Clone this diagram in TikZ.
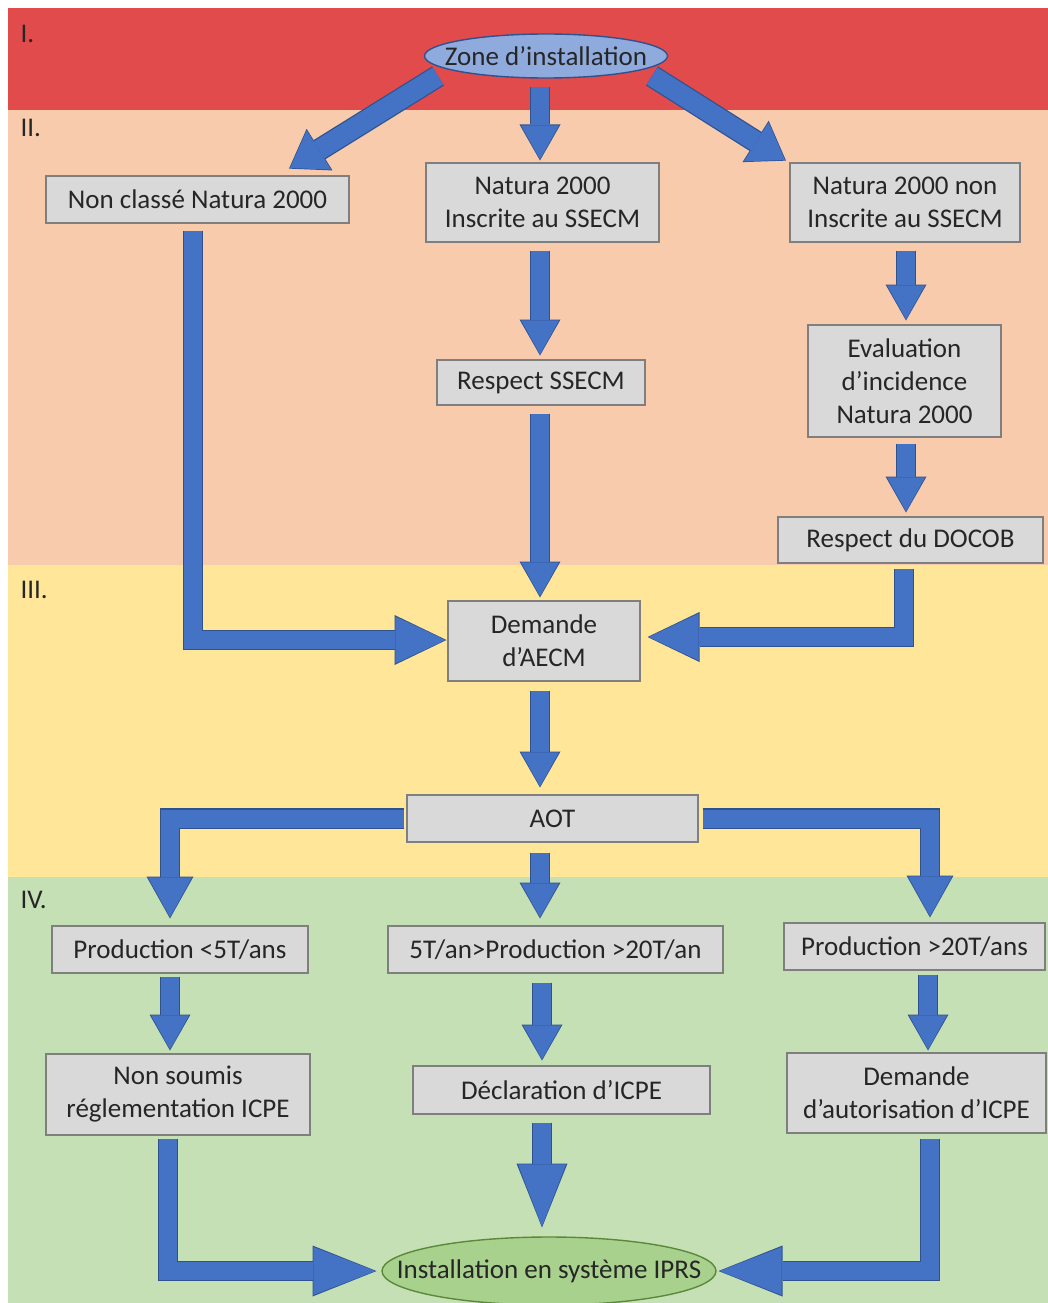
\documentclass[tikz,border=0pt]{standalone}
\usepackage{fontspec}
\setmainfont{Carlito}
\usetikzlibrary{arrows.meta,shapes.geometric}
\definecolor{bandred}{HTML}{E24B4B}
\definecolor{bandpeach}{HTML}{F8CBAD}
\definecolor{bandyellow}{HTML}{FFE699}
\definecolor{bandgreen}{HTML}{C5E0B4}
\definecolor{boxfill}{HTML}{D9D9D9}
\definecolor{boxedge}{HTML}{7F7F7F}
\definecolor{arrfill}{HTML}{4472C4}
\definecolor{arredge}{HTML}{2F528F}
\definecolor{ellblue}{HTML}{8FAADC}
\definecolor{ellgreen}{HTML}{A9D18E}
\definecolor{ellgreenedge}{HTML}{70AD47}
\begin{document}
\begin{tikzpicture}[x=1pt,y=-1pt,
  txt/.style={font=\fontsize{27}{33}\selectfont, text=black!85},
  box/.style={txt, draw=boxedge, fill=boxfill, line width=1.4pt, inner sep=0pt, align=center},
  zoneell/.style={txt, ellipse, draw=arredge, fill=ellblue, line width=1.4pt, inner xsep=-40pt, inner ysep=0pt},
  instell/.style={txt, ellipse, draw=ellgreenedge!80!black, fill=ellgreen, line width=1.4pt, inner xsep=-40pt, inner ysep=0pt},
  band/.style={txt, anchor=west},
  flowA/.style={draw=arrfill, line width=18pt, line join=miter,
     -{Triangle[width=38pt, length=34pt, line width=0pt]},
     preaction={draw=arredge, line width=20.5pt, line join=miter, shorten >=-1.2pt,
     -{Triangle[width=41pt, length=36pt, line width=0pt]}}},
  flowB/.style={draw=arrfill, line width=18pt, line join=miter,
     -{Triangle[width=47pt, length=50pt, line width=0pt]},
     preaction={draw=arredge, line width=20.5pt, line join=miter, shorten >=-1.2pt,
     -{Triangle[width=50pt, length=52pt, line width=0pt]}}},
  flowC/.style={draw=arrfill, line width=18pt, line join=miter,
     -{Triangle[width=48pt, length=62pt, line width=0pt]},
     preaction={draw=arredge, line width=20.5pt, line join=miter, shorten >=-1.2pt,
     -{Triangle[width=51pt, length=64pt, line width=0pt]}}},
  flowD/.style={draw=arrfill, line width=18pt, line join=miter,
     -{Triangle[width=44pt, length=40pt, line width=0pt]},
     preaction={draw=arredge, line width=20.5pt, line join=miter, shorten >=-1.2pt,
     -{Triangle[width=47pt, length=42pt, line width=0pt]}}},
  flowE/.style={draw=arrfill, line width=20pt, line join=miter,
     -{Triangle[width=46pt, length=34pt, line width=0pt]},
     preaction={draw=arredge, line width=22.5pt, line join=miter, shorten >=-1.2pt,
     -{Triangle[width=49pt, length=36pt, line width=0pt]}}}
]
\useasboundingbox (0,0) rectangle (1048,1303);
\fill[white] (0,0) rectangle (1048,1303);
\fill[bandred] (8,8) rectangle (1048,110);
\fill[bandpeach] (8,110) rectangle (1048,565);
\fill[bandyellow] (8,565) rectangle (1048,877);
\fill[bandgreen] (8,877) rectangle (1048,1303);

\node[band] (lI) at (17,34) {I.};
\node[band] (lII) at (17,128) {II.};
\node[band] (lIII) at (17,590) {III.};
\node[band] (lIV) at (17,900) {IV.};

% nodes
\node[zoneell, minimum width=243pt, minimum height=44pt] (zone) at (546,56) {Zone d’installation};
\node[box, minimum width=303pt, minimum height=47pt] (nc) at (197.5,199.5) {Non classé Natura 2000};
\node[box, minimum width=233pt, minimum height=79pt] (n2k) at (542.5,202.5) {Natura 2000\\Inscrite au SSECM};
\node[box, minimum width=230pt, minimum height=79pt] (n2kn) at (905,202.5) {Natura 2000 non\\Inscrite au SSECM};
\node[box, minimum width=208pt, minimum height=45pt] (rss) at (541,382.5) {Respect SSECM};
\node[box, minimum width=193pt, minimum height=112pt] (eval) at (904.5,381) {Evaluation\\d’incidence\\Natura 2000};
\node[box, minimum width=265pt, minimum height=46pt] (docob) at (910.5,540) {Respect du DOCOB};
\node[box, minimum width=192pt, minimum height=80pt] (dem) at (544,641) {Demande\\d’AECM};
\node[box, minimum width=291pt, minimum height=47pt] (aot) at (552.5,818.5) {AOT};
\node[box, minimum width=256pt, minimum height=47pt] (p5) at (180,949.5) {Production <5T/ans};
\node[box, minimum width=335pt, minimum height=47pt] (p520) at (555.5,949.5) {5T/an>Production >20T/an};
\node[box, minimum width=261pt, minimum height=47pt] (p20) at (914.5,946.5) {Production >20T/ans};
\node[box, minimum width=264pt, minimum height=81pt] (ns) at (178,1094.5) {Non soumis\\réglementation ICPE};
\node[box, minimum width=297pt, minimum height=48pt] (decl) at (561.5,1090) {Déclaration d’ICPE};
\node[box, minimum width=259pt, minimum height=80pt] (daut) at (916.5,1093) {Demande\\d’autorisation d’ICPE};
\node[instell, minimum width=334pt, minimum height=68pt] (inst) at (549,1271) {Installation en système IPRS};

% connectors
\draw[flowE] ([shift={(-108,20)}]zone.center) -- ([shift={(92.5,-31.5)}]nc.center);
\draw[flowA] ([shift={(-6,8)}]zone.south) -- ([shift={(-2.5,-3)}]n2k.north);
\draw[flowE] ([shift={(106,20)}]zone.center) -- ([shift={(-120,-42.5)}]n2kn.center);

\draw[flowB] ([shift={(-4.5,7)}]nc.south) |- ([shift={(-2,-1)}]dem.west);
\draw[flowA] ([shift={(-2.5,8)}]n2k.south) -- ([shift={(-1,-5)}]rss.north);
\draw[flowA] ([shift={(-1,8)}]rss.south) -- ([shift={(-4,-4)}]dem.north);
\draw[flowA] ([shift={(1,8)}]n2kn.south) -- ([shift={(1.5,-5)}]eval.north);
\draw[flowA] ([shift={(1.5,6)}]eval.south) -- ([shift={(-4.5,-5)}]docob.north);
\draw[flowB] ([shift={(-6.5,5)}]docob.south) |- ([shift={(8,-4)}]dem.east);

\draw[flowA] ([shift={(-4,9)}]dem.south) -- ([shift={(-12.5,-8)}]aot.north);
\draw[flowD] ([shift={(-2,0)}]aot.west) -| ([shift={(-10,-8)}]p5.north);
\draw[flowA] ([shift={(-12.5,10)}]aot.south) -- ([shift={(-15.5,-8)}]p520.north);
\draw[flowD] ([shift={(4,0)}]aot.east) -| ([shift={(15.5,-6)}]p20.north);

\draw[flowA] ([shift={(-10,3)}]p5.south) -- ([shift={(-8,-4)}]ns.north);
\draw[flowA] ([shift={(-13.5,9)}]p520.south) -- ([shift={(-19.5,-6)}]decl.north);
\draw[flowA] ([shift={(13.5,4)}]p20.south) -- ([shift={(11.5,-3)}]daut.north);

\draw[flowC] ([shift={(-10,3)}]ns.south) |- ([shift={(-6,0)}]inst.west);
\draw[flowC] ([shift={(-19.5,8)}]decl.south) -- ([shift={(-7,-10)}]inst.north);
\draw[flowC] ([shift={(13.5,5)}]daut.south) |- ([shift={(3,0)}]inst.east);
\end{tikzpicture}
\end{document}
